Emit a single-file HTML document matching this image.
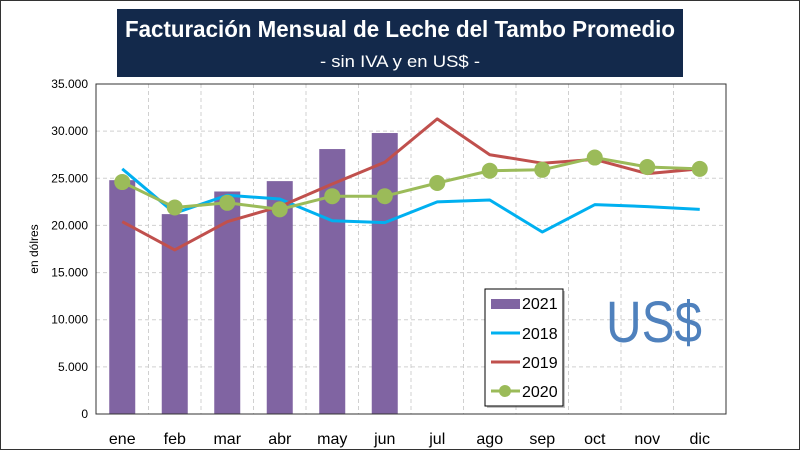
<!DOCTYPE html>
<html><head><meta charset="utf-8"><style>
html,body{margin:0;padding:0;background:#fff}
#wrap{position:relative;width:800px;height:450px;overflow:hidden;font-family:"Liberation Sans",sans-serif}
</style></head><body>
<div id="wrap">
<svg id="svg" width="800" height="450" viewBox="0 0 800 450">
<rect x="0.5" y="0.5" width="799" height="449" fill="#fff" stroke="#333"/>
<g>
<rect x="117" y="9" width="566" height="68" fill="#13294b"/>
<text x="400" y="37" text-anchor="middle" fill="#fff" font-size="23" font-weight="bold" textLength="550" lengthAdjust="spacingAndGlyphs">Facturación Mensual de Leche del Tambo Promedio</text>
<text x="400" y="67" text-anchor="middle" fill="#fff" font-size="17" textLength="160" lengthAdjust="spacingAndGlyphs">- sin IVA y en US$ -</text>
</g>
<g id="grid"></g>
<g id="bars"></g>
<g id="lines"></g>
<g id="axes"></g>
<text transform="translate(38,249) rotate(-90)" text-anchor="middle" font-size="12" fill="#000">en dólres</text>
<text x="654" y="342" text-anchor="middle" font-size="58" fill="#4f81bd" textLength="96" lengthAdjust="spacingAndGlyphs">US$</text>
<g>
<rect x="487" y="291" width="78" height="117" fill="#888" opacity="0.5"/>
<rect x="485" y="289" width="78" height="117" fill="#fff" stroke="#000" stroke-width="1"/>
<g><rect x="491" y="299" width="29" height="10" fill="#8064a2"/><text x="522" y="309" font-size="16" fill="#000">2021</text></g>
<g><line x1="491" y1="333" x2="520" y2="333" stroke="#00b0f0" stroke-width="3"/><text x="522" y="339" font-size="16" fill="#000">2018</text></g>
<g><line x1="491" y1="362" x2="520" y2="362" stroke="#c0504d" stroke-width="3"/><text x="522" y="368" font-size="16" fill="#000">2019</text></g>
<g><line x1="491" y1="391" x2="520" y2="391" stroke="#9bbb59" stroke-width="3"/><circle cx="505" cy="391" r="6" fill="#9bbb59"/><text x="522" y="397" font-size="16" fill="#000">2020</text></g>
</g>
</svg>
</div>
<script>
const categories=["ene","feb","mar","abr","may","jun","jul","ago","sep","oct","nov","dic"];
const values2021=[24800,21200,23600,24700,28100,29800];
const values2018=[26000,21300,23200,22800,20500,20300,22500,22700,19300,22200,22000,21700];
const values2019=[20400,17400,20400,22000,24400,26700,31300,27500,26600,27000,25500,26000];
const values2020=[24600,21900,22400,21700,23100,23100,24500,25800,25900,27200,26200,26000];
const yTicks=[0,5000,10000,15000,20000,25000,30000,35000];
const yTickLabels=["0","5.000","10.000","15.000","20.000","25.000","30.000","35.000"];

const NS="http://www.w3.org/2000/svg";
const X0=96,X1=726,Y0=414,Y1=84,YMAX=35000;
const band=(X1-X0)/categories.length;
function xs(i){return X0+band*(i+0.5);}
function ys(v){return Y0-(v/YMAX)*(Y0-Y1);}
function mk(tag,attrs,parent){const e=document.createElementNS(NS,tag);for(const k in attrs)e.setAttribute(k,attrs[k]);parent.appendChild(e);return e;}
const grid=document.getElementById('grid'),bars=document.getElementById('bars'),lines=document.getElementById('lines'),axes=document.getElementById('axes');

mk('rect',{x:X0,y:Y1,width:X1-X0,height:Y0-Y1,fill:'#fff'},grid);
yTicks.forEach((t,i)=>{
  if(t>0&&t<YMAX){const l=mk('line',{x1:X0,x2:X1,y1:ys(t),y2:ys(t),stroke:'#d0d0d0','stroke-dasharray':'4,3'},grid);
  
  }
  const tx=mk('text',{x:X0-8,y:ys(t)+4,'text-anchor':'end','font-size':'12',fill:'#000'},axes);
  tx.textContent=yTickLabels[i];
  
  
});
for(let i=1;i<categories.length;i++){
  const l=mk('line',{x1:X0+band*i,x2:X0+band*i,y1:Y1,y2:Y0,stroke:'#d0d0d0','stroke-dasharray':'4,3'},grid);
  
  
}
categories.forEach((c,i)=>{
  const tx=mk('text',{x:xs(i),y:444,'text-anchor':'middle','font-size':'16',fill:'#000'},axes);
  tx.textContent=c;
  
  
});
const frame=mk('rect',{x:X0,y:Y1,width:X1-X0,height:Y0-Y1,fill:'none',stroke:'#333','stroke-width':'1'},axes);



values2021.forEach((v,i)=>{
  const b=mk('rect',{x:xs(i)-13,y:ys(v),width:26,height:Y0-ys(v),fill:'#8064a2'},bars);
  
  
});
function line(vals,color,name){
  const p=mk('polyline',{points:vals.map((v,i)=>xs(i)+','+ys(v)).join(' '),fill:'none',stroke:color,'stroke-width':'3','stroke-linejoin':'round'},lines);
  
  
}
line(values2018,'#00b0f0','line-2018');
line(values2019,'#c0504d','line-2019');
line(values2020,'#9bbb59','line-2020');
values2020.forEach((v,i)=>{
  const c=mk('circle',{cx:xs(i),cy:ys(v),r:8,fill:'#9bbb59'},lines);
  
  
});
</script>
</body></html>
